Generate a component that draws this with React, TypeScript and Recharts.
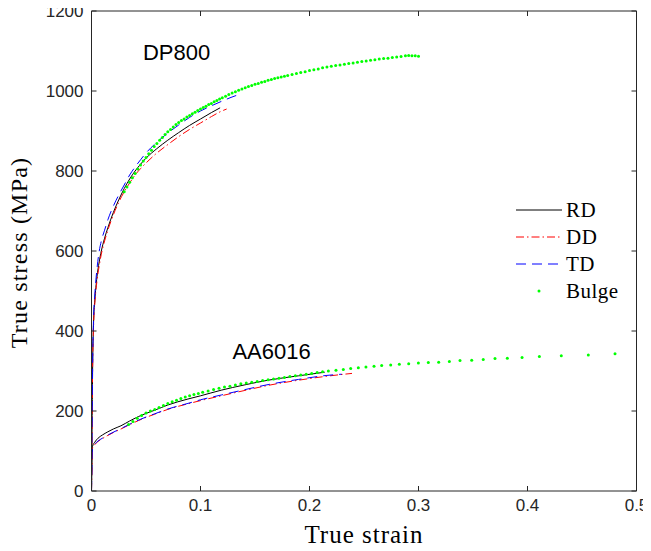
import React from 'react';
import { ComposedChart, Line, Scatter, XAxis, YAxis, Legend, ReferenceDot, ReferenceLine } from 'recharts';

type Pt = [number, number];

// DP800, uniaxial tension in three directions (strain, MPa)
const dpRD: Pt[] = [
  [0, 0], [0.0005, 150], [0.001, 300], [0.002, 430], [0.003, 475], [0.005, 535], [0.007, 572],
  [0.009, 600], [0.012, 632], [0.015, 658], [0.02, 696], [0.025, 728], [0.03, 756], [0.035, 780],
  [0.04, 800], [0.045, 817], [0.05, 832], [0.06, 856], [0.07, 877], [0.08, 896], [0.09, 914],
  [0.1, 930], [0.11, 946], [0.118, 958],
];
const dpDD: Pt[] = [
  [0, 0], [0.0005, 150], [0.001, 300], [0.002, 420], [0.003, 468], [0.005, 525], [0.007, 562],
  [0.009, 592], [0.012, 625], [0.015, 652], [0.02, 690], [0.025, 722], [0.03, 748], [0.035, 770],
  [0.04, 790], [0.045, 806], [0.05, 820], [0.06, 845], [0.07, 866], [0.08, 886], [0.09, 904],
  [0.1, 920], [0.11, 936], [0.118, 948], [0.124, 955],
];
const dpTD: Pt[] = [
  [0, 0], [0.0005, 160], [0.001, 310], [0.002, 440], [0.003, 490], [0.005, 555], [0.007, 598],
  [0.009, 625], [0.012, 652], [0.015, 678], [0.02, 712], [0.025, 740], [0.03, 765], [0.035, 790],
  [0.04, 810], [0.045, 828], [0.05, 845], [0.06, 872], [0.07, 895], [0.08, 915], [0.09, 934],
  [0.1, 950], [0.11, 963], [0.12, 975], [0.128, 984], [0.134, 990],
];
const dpBulge: Pt[] = [
  [0.03, 748], [0.0325, 760], [0.035, 772], [0.0375, 783], [0.04, 794], [0.0425, 805], [0.045, 815],
  [0.0475, 825], [0.05, 834], [0.0525, 843], [0.055, 852], [0.0575, 861], [0.06, 869], [0.0625, 877],
  [0.065, 884], [0.0675, 891], [0.07, 898], [0.0725, 904], [0.075, 910], [0.0775, 916], [0.08, 921],
  [0.0825, 926], [0.085, 930], [0.0875, 935], [0.09, 939], [0.0925, 943], [0.095, 947], [0.0975, 951],
  [0.1, 955], [0.1025, 959], [0.105, 962], [0.1075, 966], [0.11, 969], [0.1125, 973], [0.115, 976],
  [0.1175, 980], [0.12, 983], [0.123, 987], [0.126, 991], [0.129, 995], [0.132, 998], [0.135, 1002],
  [0.138, 1005], [0.141, 1008], [0.144, 1011], [0.147, 1014], [0.15, 1017], [0.153, 1019], [0.156, 1022],
  [0.159, 1024], [0.162, 1027], [0.165, 1029], [0.168, 1031], [0.171, 1033], [0.174, 1035], [0.177, 1037],
  [0.18, 1039], [0.184, 1041], [0.188, 1044], [0.192, 1046], [0.196, 1048], [0.2, 1051], [0.204, 1053],
  [0.208, 1055], [0.212, 1058], [0.216, 1060], [0.22, 1062], [0.224, 1064], [0.228, 1065], [0.232, 1067],
  [0.236, 1069], [0.24, 1070], [0.244, 1072], [0.248, 1074], [0.252, 1075], [0.256, 1077], [0.26, 1078],
  [0.264, 1080], [0.268, 1081], [0.272, 1082], [0.276, 1084], [0.28, 1085], [0.284, 1086], [0.288, 1088],
  [0.291, 1089], [0.294, 1088], [0.297, 1088], [0.3, 1087],
];

// AA6016
const aaRD: Pt[] = [
  [0, 0], [0.0003, 60], [0.0006, 100], [0.001, 112], [0.003, 122], [0.006, 132], [0.01, 140],
  [0.015, 148], [0.02, 155], [0.027, 163], [0.035, 175], [0.043, 186], [0.05, 194], [0.058, 202],
  [0.07, 215], [0.0885, 230], [0.1, 238], [0.119, 252], [0.14, 265], [0.162, 277], [0.19, 288],
  [0.214, 297],
];
const aaDD: Pt[] = [
  [0, 0], [0.0003, 60], [0.0006, 100], [0.001, 108], [0.003, 116], [0.006, 124], [0.01, 131],
  [0.015, 139], [0.02, 146], [0.027, 155], [0.035, 166], [0.043, 176], [0.05, 184], [0.058, 192],
  [0.07, 204], [0.0885, 218], [0.1, 226], [0.119, 238], [0.14, 251], [0.162, 264], [0.19, 277],
  [0.216, 287], [0.239, 294],
];
const aaTD: Pt[] = [
  [0, 0], [0.0003, 60], [0.0006, 100], [0.001, 108], [0.003, 117], [0.006, 125], [0.01, 132],
  [0.015, 140], [0.02, 147], [0.027, 156], [0.035, 167], [0.043, 177], [0.05, 185], [0.058, 193],
  [0.07, 205], [0.0885, 219], [0.1, 228], [0.119, 240], [0.14, 253], [0.162, 266], [0.19, 279],
  [0.216, 289], [0.2295, 292],
];
const aaBulge: Pt[] = [
  [0.034, 166], [0.038, 174], [0.042, 182], [0.046, 189], [0.05, 195], [0.054, 200], [0.058, 204],
  [0.062, 209], [0.066, 214], [0.07, 219], [0.074, 223], [0.078, 227], [0.082, 231], [0.086, 235],
  [0.09, 238], [0.094, 241], [0.098, 244], [0.102, 247], [0.107, 250], [0.112, 254], [0.117, 257],
  [0.122, 260], [0.127, 262], [0.132, 265], [0.137, 268], [0.142, 270], [0.147, 272], [0.152, 274],
  [0.157, 276], [0.162, 278], [0.167, 280], [0.172, 282], [0.177, 284], [0.182, 286], [0.187, 288],
  [0.192, 290], [0.197, 292], [0.202, 294], [0.207, 296], [0.212, 298], [0.2173, 300], [0.2243, 302],
  [0.231, 304], [0.2378, 306], [0.2448, 308], [0.2518, 310], [0.2592, 312], [0.2662, 314], [0.2745, 315],
  [0.2824, 317], [0.291, 318], [0.2999, 320], [0.309, 321], [0.3185, 322], [0.3283, 324], [0.3381, 326],
  [0.3488, 327], [0.3594, 329], [0.3702, 331], [0.3815, 332], [0.395, 334], [0.4109, 336], [0.431, 338],
  [0.4558, 340], [0.4803, 343],
];

const xTicks = [0, 0.1, 0.2, 0.3, 0.4, 0.5];
const yTicks = [0, 200, 400, 600, 800, 1000, 1200];

const legendItems = [
  { name: 'RD', color: '#000000', dash: undefined as string | undefined, dot: false },
  { name: 'DD', color: '#ff0000', dash: '8 3 1.5 3', dot: false },
  { name: 'TD', color: '#0000ff', dash: '10 6', dot: false },
  { name: 'Bulge', color: '#00ff00', dash: undefined, dot: true },
];

const pts = (a: Pt[]) => a.map(([x, y]) => ({ x, y }));

const AXIS = '#262626';
const tickStyle = { fill: AXIS, fontSize: 17, fontFamily: 'Liberation Sans, Arial, sans-serif' };
const serif = 'Liberation Serif, Times New Roman, serif';

const renderLegend = () => (
  <svg width={130} height={112}>
    {legendItems.map((it, i) => {
      const cy = 13 + i * 27;
      return (
        <g key={it.name}>
          {it.dot ? (
            <circle cx={23} cy={cy} r={1.5} fill={it.color} />
          ) : (
            <line x1={0} x2={46} y1={cy} y2={cy} stroke={it.color} strokeWidth={1} strokeDasharray={it.dash} />
          )}
          <text x={50} y={cy + 7} fontFamily={serif} fontSize={21} letterSpacing={0.5} fill="#000">
            {it.name}
          </text>
        </g>
      );
    })}
  </svg>
);

const greenDot = (p: any) => <circle cx={p.cx} cy={p.cy} r={1.5} fill="#00ff00" />;

const textLabel = (txt: string) => (p: any) => (
  <text x={p.viewBox.x} y={p.viewBox.y} fontSize={22} fontFamily="Liberation Sans, Arial, sans-serif" fill="#000">
    {txt}
  </text>
);

export default function App() {
  return (
    <div style={{ width: 651, height: 548, margin: '-8px 0 0 -8px', background: '#fff' }}>
      <ComposedChart width={651} height={548} margin={{ top: 11, right: 13.5, bottom: 0, left: 0 }}>
        <XAxis
          dataKey="x"
          type="number"
          domain={[0, 0.5]}
          ticks={xTicks}
          height={57}
          stroke={AXIS}
          tickSize={-5}
          tickMargin={13}
          tick={tickStyle}
          label={(p: any) => (
            <text
              x={p.viewBox.x + p.viewBox.width / 2}
              y={p.viewBox.y + 52}
              textAnchor="middle"
              fontFamily={serif}
              fontSize={25}
              letterSpacing={1}
              fill="#000"
            >
              True strain
            </text>
          )}
        />
        <YAxis
          yAxisId={0}
          dataKey="y"
          type="number"
          domain={[0, 1200]}
          ticks={yTicks}
          width={91.5}
          stroke={AXIS}
          tickSize={-5}
          tickMargin={13}
          tick={tickStyle}
          label={(p: any) => (
            <text
              transform={`translate(${p.viewBox.x + 27}, ${p.viewBox.y + p.viewBox.height / 2 + 1.5}) rotate(-90)`}
              textAnchor="middle"
              fontFamily={serif}
              fontSize={24}
              letterSpacing={1.2}
              fill="#000"
            >
              True stress (MPa)
            </text>
          )}
        />
        <YAxis
          yAxisId="right"
          orientation="right"
          dataKey="y"
          type="number"
          domain={[0, 1200]}
          allowDataOverflow
          ticks={yTicks}
          width={1}
          stroke={AXIS}
          tickSize={-5}
          tickFormatter={() => ''}
        />

        {/* top frame of the box, with inward ticks */}
        <ReferenceLine y={1200} stroke={AXIS} strokeWidth={1} />
        {xTicks.slice(1, -1).map((t) => (
          <ReferenceLine key={t} segment={[{ x: t, y: 1200 }, { x: t, y: 1187.5 }]} stroke={AXIS} strokeWidth={1} />
        ))}

        <Line data={pts(dpRD)} dataKey="y" type="monotone" stroke="#000000" strokeWidth={1} dot={false} isAnimationActive={false} />
        <Line data={pts(dpDD)} dataKey="y" type="monotone" stroke="#ff0000" strokeWidth={1} strokeDasharray="8 3 1.5 3" dot={false} isAnimationActive={false} />
        <Line data={pts(dpTD)} dataKey="y" type="monotone" stroke="#0000ff" strokeWidth={1} strokeDasharray="10 6" dot={false} isAnimationActive={false} />
        <Line data={pts(aaRD)} dataKey="y" type="monotone" stroke="#000000" strokeWidth={1} dot={false} isAnimationActive={false} />
        <Line data={pts(aaDD)} dataKey="y" type="monotone" stroke="#ff0000" strokeWidth={1} strokeDasharray="8 3 1.5 3" dot={false} isAnimationActive={false} />
        <Line data={pts(aaTD)} dataKey="y" type="monotone" stroke="#0000ff" strokeWidth={1} strokeDasharray="10 6" dot={false} isAnimationActive={false} />
        <Scatter data={pts(dpBulge)} dataKey="y" fill="#00ff00" shape={greenDot} isAnimationActive={false} />
        <Scatter data={pts(aaBulge)} dataKey="y" fill="#00ff00" shape={greenDot} isAnimationActive={false} />

        <ReferenceDot x={0.0472} y={1077} r={0.01} fill="none" stroke="none" label={textLabel('DP800')} />
        <ReferenceDot x={0.1293} y={329} r={0.01} fill="none" stroke="none" label={textLabel('AA6016')} />

        <Legend
          layout="horizontal"
          verticalAlign="middle"
          align="center"
          content={renderLegend}
          wrapperStyle={{ left: 516, top: 197, width: 130, height: 112 }}
        />
      </ComposedChart>
    </div>
  );
}
